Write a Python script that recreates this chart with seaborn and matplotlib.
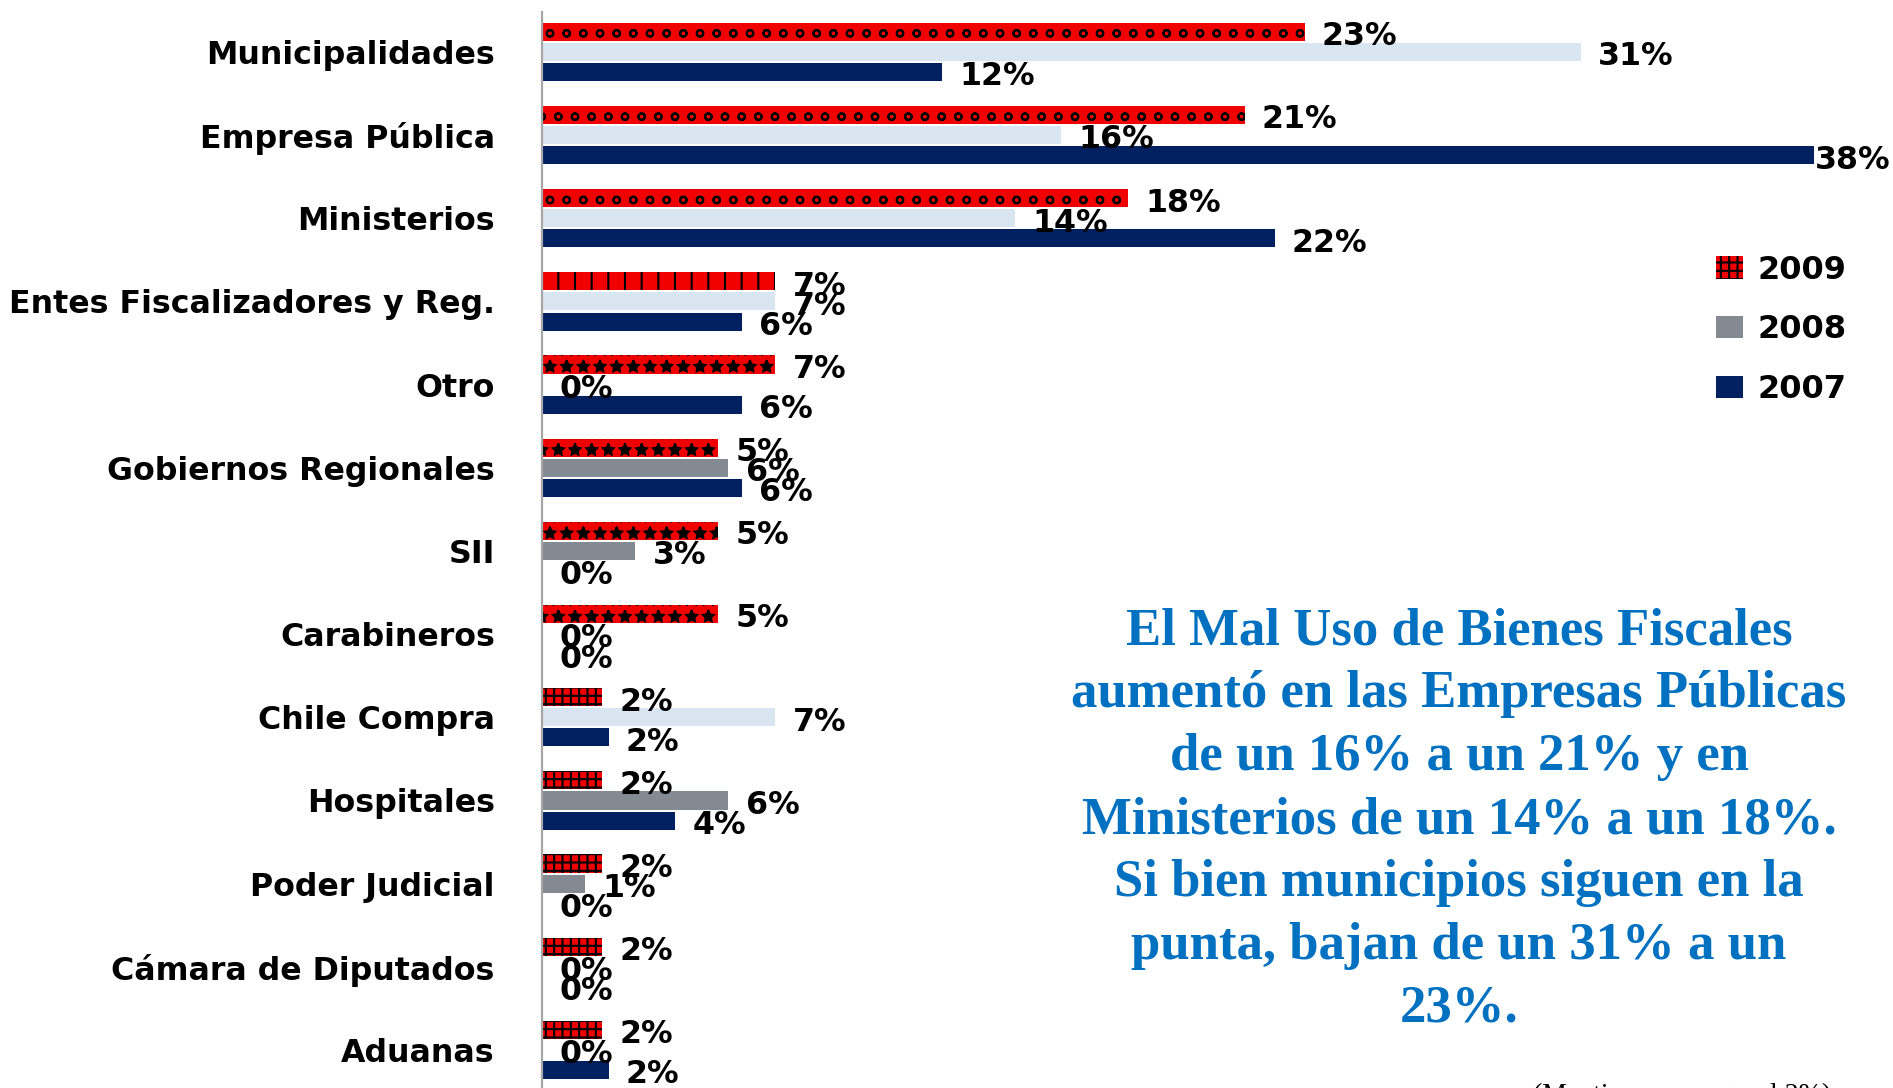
import numpy as np
import pandas as pd
import matplotlib
matplotlib.use('Agg')
import matplotlib.pyplot as plt
from matplotlib.patches import Patch
import seaborn as sns

# Datos: porcentaje por institución y año
categorias = ['Municipalidades', 'Empresa Pública', 'Ministerios',
              'Entes Fiscalizadores y Reg.', 'Otro', 'Gobiernos Regionales',
              'SII', 'Carabineros', 'Chile Compra', 'Hospitales',
              'Poder Judicial', 'Cámara de Diputados', 'Aduanas']
anios = ['2009', '2008', '2007']
v2009 = [22.9, 21.1, 17.6, 7.0, 7.0, 5.3, 5.3, 5.3, 1.8, 1.8, 1.8, 1.8, 1.8]
v2008 = [31.2, 15.6, 14.2, 7.0, 0.0, 5.6, 2.8, 0.0, 7.0, 5.6, 1.3, 0.0, 0.0]
v2007 = [12.0, 38.2, 22.0, 6.0, 6.0, 6.0, 0.0, 0.0, 2.0, 4.0, 0.0, 0.0, 2.0]

texto = ("El Mal Uso de Bienes Fiscales\n"
         "aumentó en las Empresas Públicas\n"
         "de un 16% a un 21% y en\n"
         "Ministerios de un 14% a un 18%.\n"
         "Si bien municipios siguen en la\n"
         "punta, bajan de un 31% a un\n"
         "23%.")
nota = "(Mantiene en rango al 2%)"

# Estilos
ROJO = '#F00000'
CELESTE = '#DAE5F2'
GRIS = '#848A92'
AZUL = '#00205F'
AZUL_TXT = '#0070C0'
# en el original, algunas barras 2008 son celestes y otras grises
gris_2008 = {'Gobiernos Regionales', 'SII', 'Hospitales', 'Poder Judicial'}
trama_2009 = {'Municipalidades': 'o', 'Empresa Pública': 'o', 'Ministerios': 'o',
              'Entes Fiscalizadores y Reg.': '|', 'Otro': '*',
              'Gobiernos Regionales': '*', 'SII': '*', 'Carabineros': '*'}

W, H = 1893, 1088
X0, Y_TOP = 542, 12
PX_POR_PCT = 33.3

sns.set_theme(style='white')
plt.rcParams['font.family'] = ['DejaVu Sans']
plt.rcParams['text.color'] = 'black'
plt.rcParams['ytick.color'] = 'black'
plt.rcParams['hatch.linewidth'] = 1.5

df = pd.DataFrame({
    'categoria': categorias * 3,
    'anio': np.repeat(anios, len(categorias)),
    'valor': v2009 + v2008 + v2007,
})

fig = plt.figure(figsize=(W / 100, H / 100), dpi=100)
ax = fig.add_axes([X0 / W, 0, 1 - X0 / W, 1 - Y_TOP / H])
sns.barplot(data=df, x='valor', y='categoria', hue='anio', hue_order=anios,
            orient='h', width=0.726, gap=0.1, saturation=1,
            palette=[ROJO, GRIS, AZUL], legend=False, ax=ax)

ax.set_xlim(0, (W - X0) / PX_POR_PCT)
ax.set_ylim(12.457, -0.48)
ax.set_xticks([])
ax.set_xlabel('')
ax.set_ylabel('')
for s in ['top', 'right', 'bottom']:
    ax.spines[s].set_visible(False)
ax.spines['left'].set_color('#A6A6A6')
ax.spines['left'].set_linewidth(1.6)
ax.tick_params(axis='y', length=0, pad=34, labelcolor='black')
for t in ax.get_yticklabels():
    t.set_fontweight('bold')
    t.set_fontsize(22.8)

valores = {'2009': v2009, '2008': v2008, '2007': v2007}
xmax = ax.get_xlim()[1]
for anio, cont in zip(anios, ax.containers):
    for cat, barra, v in zip(categorias, cont, valores[anio]):
        if anio == '2009':
            barra.set_hatch(trama_2009.get(cat, '++'))
            barra.set_edgecolor('black')
            barra.set_linewidth(0)
        elif anio == '2008':
            barra.set_facecolor(GRIS if cat in gris_2008 else CELESTE)
            barra.set_linewidth(0)
        else:
            barra.set_linewidth(0)
        w = barra.get_width()
        yc = barra.get_y() + barra.get_height() / 2
        x_px = ax.transData.transform((w, yc))[0]
        if x_px + 100 > W:
            ax.annotate(f'{v:.0f}%', xy=(xmax, yc), xytext=(-2, -3.5),
                        textcoords='offset points', ha='right', va='center',
                        fontsize=22.8, fontweight='bold', color='black',
                        annotation_clip=False)
        else:
            ax.annotate(f'{v:.0f}%', xy=(w, yc), xytext=(12.5, -3.5),
                        textcoords='offset points', ha='left', va='center',
                        fontsize=22.8, fontweight='bold', color='black',
                        annotation_clip=False)

handles = [Patch(facecolor=ROJO, edgecolor='black', hatch='++', linewidth=0),
           Patch(facecolor=GRIS, linewidth=0),
           Patch(facecolor=AZUL, linewidth=0)]
fig.legend(handles, anios, loc='center left', bbox_to_anchor=(1716 / W, 1 - 330 / H),
           frameon=False, borderpad=0, borderaxespad=0, handlelength=0.85,
           handleheight=0.7, handletextpad=0.45, labelspacing=0.9,
           labelcolor='black', prop={'weight': 'bold', 'size': 23})

fig.text(1459 / W, 1 - 820 / H, texto, ha='center', va='center', color=AZUL_TXT,
         fontfamily='Liberation Serif', fontweight='bold', fontsize=38,
         linespacing=1.40)
fig.text(1533 / W, 1 - 1083 / H, nota, ha='left', va='top', color='black',
         fontfamily='Liberation Serif', fontsize=20)

fig.savefig('out.png', dpi=100)
